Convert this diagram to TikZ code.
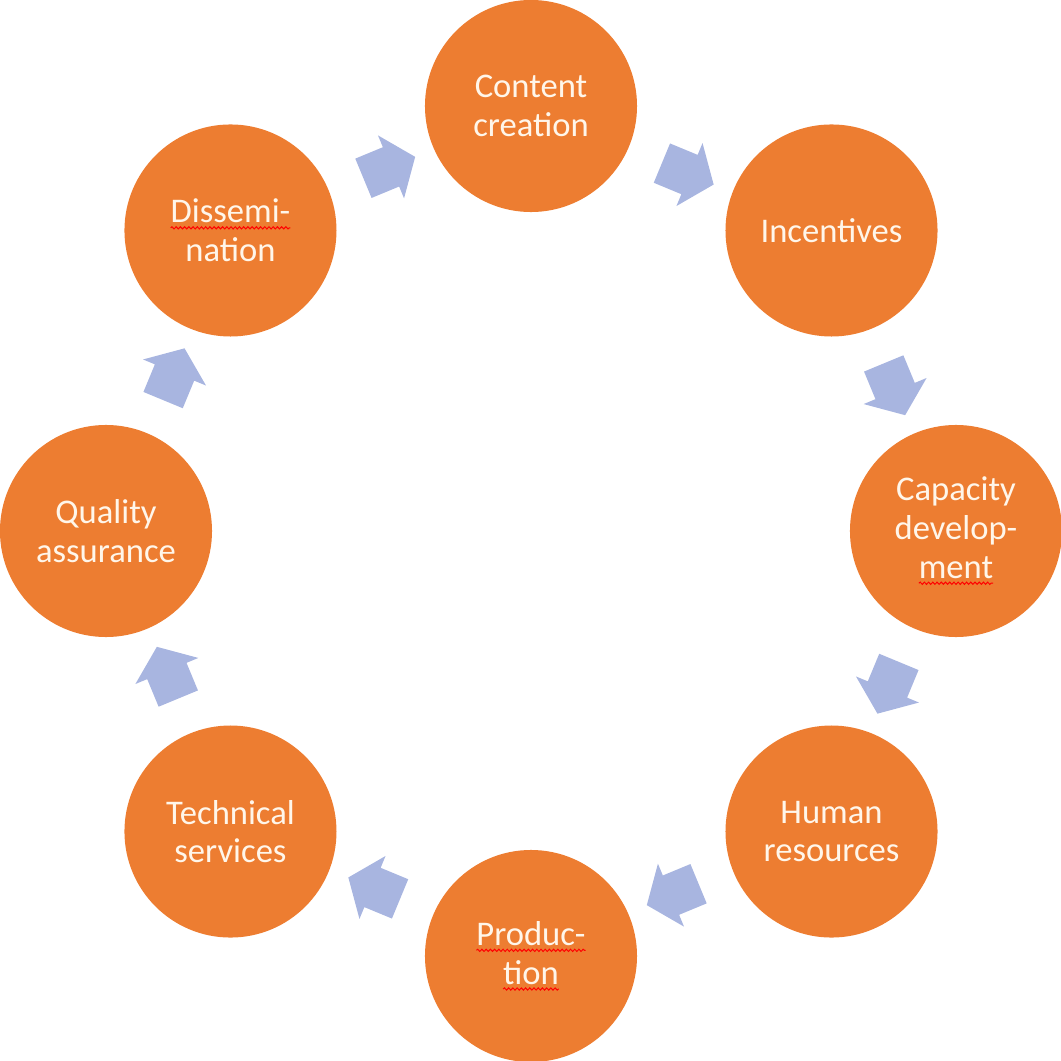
\documentclass[tikz,border=0pt]{standalone}
\usepackage{fontspec}
\setmainfont{Carlito}
\usetikzlibrary{shapes.arrows,decorations.pathmorphing}
\definecolor{cyc_orange}{RGB}{237,125,49}
\definecolor{cyc_blue}{RGB}{168,181,224}
\definecolor{cyc_text}{RGB}{255,246,234}
\tikzstyle{wordbox}=[rectangle,fill=none,draw=none,minimum size=0pt,inner sep=0pt,outer sep=0pt]
% red wavy spell-check mark
\newcommand{\spellmark}[1]{\tikz[baseline=(w.base)]{\node[style=wordbox] (w) {#1};
  \draw[red,line width=0.7pt,decorate,decoration={snake,amplitude=0.8pt,segment length=3pt}]
  ([yshift=-3.5pt]w.base west) -- ([yshift=-3.5pt]w.base east);}}
\tikzstyle{stage}=[circle,fill=cyc_orange,draw=none,minimum size=5.3cm,
  inner sep=0pt,text=cyc_text,align=center,font=\fontsize{24.6}{27.5}\selectfont]
\tikzstyle{turn}=[single arrow,fill=cyc_blue,draw=none,minimum height=1.4cm,minimum width=0pt,
  inner xsep=0pt,inner ysep=0.525cm,single arrow head extend=0.32cm,single arrow tip angle=105]
\begin{document}
\begin{tikzpicture}[x=0.025cm,y=0.025cm]
    \useasboundingbox (-531,-530) rectangle (530,531);
    \node [style=stage] (content) at (90:425) {Content\\creation};
    \node [style=stage] (incent) at (45:425) {Incentives};
    \node [style=stage] (capac) at (0:425) {Capacity\\develop-\\\spellmark{ment}};
    \node [style=stage] (human) at (-45:425) {Human\\resources};
    \node [style=stage] (produc) at (-90:425) {\spellmark{Produc-}\\\spellmark{tion}};
    \node [style=stage] (techn) at (-135:425) {Technical\\services};
    \node [style=stage] (quality) at (180:425) {Quality\\assurance};
    \node [style=stage] (dissem) at (135:425) {\spellmark{Dissemi-}\\nation};
    % arrows between the stages
    \node [style=turn, rotate=-22.5] (t1) at (67.5:390) {};
    \node [style=turn, rotate=-67.5] (t2) at (22.5:390) {};
    \node [style=turn, rotate=-112.5] (t3) at (-22.5:390) {};
    \node [style=turn, rotate=-157.5] (t4) at (-67.5:390) {};
    \node [style=turn, rotate=157.5] (t5) at (-112.5:390) {};
    \node [style=turn, rotate=112.5] (t6) at (-157.5:390) {};
    \node [style=turn, rotate=67.5] (t7) at (157.5:390) {};
    \node [style=turn, rotate=22.5] (t8) at (112.5:390) {};
\end{tikzpicture}
\end{document}
